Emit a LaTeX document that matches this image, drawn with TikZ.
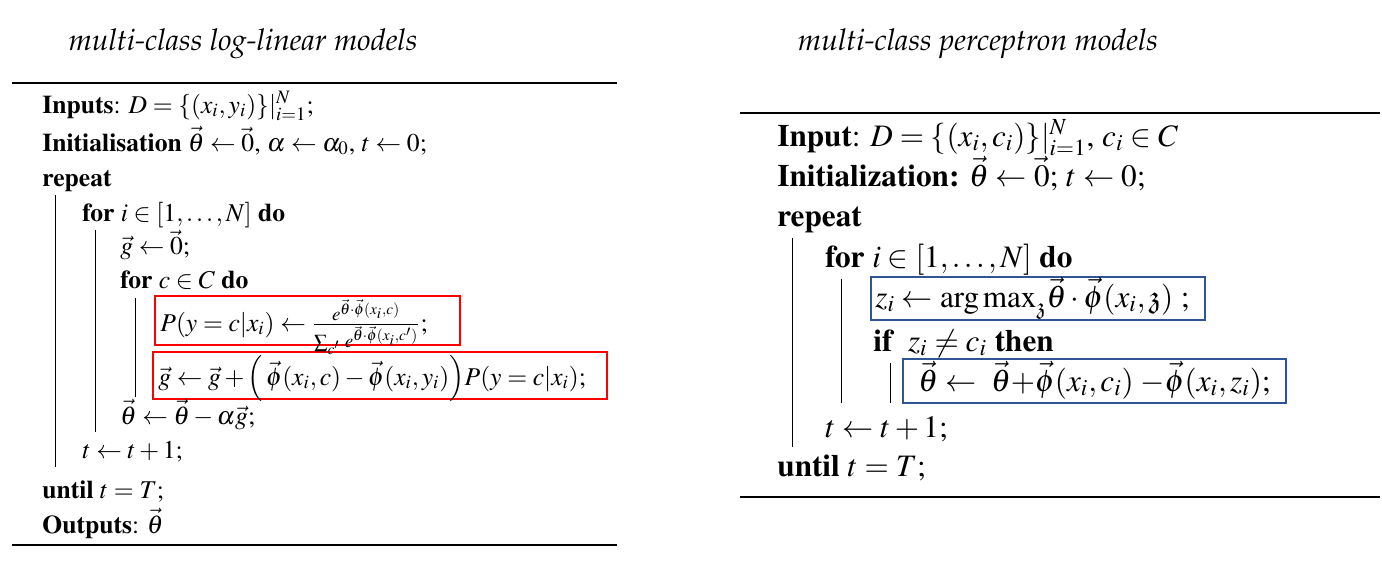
\documentclass[tikz,border=0pt]{standalone}
\usepackage[T1]{fontenc}
\usepackage{mathptmx}
\usepackage{amssymb}
\usepackage{tikz}
\definecolor{hiblue}{RGB}{47,85,151}
\colorlet{hired}{red}
\tikzset{
  every algo line/.style={anchor=base west,inner sep=0pt},
  left line/.style={every algo line,font=\fontsize{12.8}{15}\selectfont},
  right line/.style={every algo line,font=\fontsize{15.6}{18}\selectfont},
  model title/.style={anchor=base,inner sep=0pt,font=\fontsize{15}{18}\fontfamily{ppl}\selectfont\itshape},
  rule/.style={line width=1pt},
  block bar/.style={line width=0.5pt},
  red box/.style={draw=hired,line width=1pt},
  blue box/.style={draw=hiblue,line width=1pt},
}

\begin{document}
\begin{tikzpicture}[x=0.5pt,y=-0.5pt]
\useasboundingbox (0,0) rectangle (1382,578);
% titles
\node[model title] (lefttitle) at (243,50) {multi-class log-linear models};
\node[model title] (righttitle) at (978,50) {multi-class perceptron models};
% rules
\foreach \xa/\xb/\ry in {12/617/83, 12/617/545, 740/1380/113, 740/1380/497}
{
  \draw[rule] (\xa,\ry) -- (\xb,\ry);
}
% block bars
\foreach \bx/\btop/\bbot in {55/195/467, 95/230/432, 135/298/397, 792/238/447, 841/279/403, 890/363/403}
{
  \draw[block bar] (\bx,\btop) -- (\bx,\bbot);
}
% highlight boxes
\draw[red box] (155,296) rectangle (460,345);
\draw[red box] (153,352) rectangle (607,399);
\draw[blue box] (871,277) rectangle (1205,320);
\draw[blue box] (903,359) rectangle (1286,403);

% log-linear
\node[left line] (inputs) at (42,113) {\textbf{Inputs}: $D=\{(x_i,y_i)\}|_{i=1}^{N}$;};
\node[left line] (init) at (42,151) {\textbf{Initialisation} $\vec{\theta}\leftarrow\vec{0}$, $\alpha\leftarrow\alpha_0$, $t\leftarrow0$;};
\node[left line] (rep) at (42,186) {\textbf{repeat}};
\node[left line] (fori) at (82,221) {\textbf{for} $i\in[1,\ldots,N]$ \textbf{do}};
\node[left line] (gzero) at (120,254) {$\vec{g}\leftarrow\vec{0}$;};
\node[left line] (forc) at (120,288) {\textbf{for} $c\in C$ \textbf{do}};
\node[left line] (pupd) at (160,331) {$P(y=c|x_i)\leftarrow\frac{e^{\vec{\theta}\cdot\vec{\phi}(x_i,c)}}{\sum_{c'}\,e^{\vec{\theta}\cdot\vec{\phi}(x_i,c')}}$;};
\node[left line] (gupd) at (158,385) {$\vec{g}\leftarrow\vec{g}+\Bigl(\,\vec{\phi}(x_i,c)-\vec{\phi}(x_i,y_i)\Bigr)P(y=c|x_i)$;};
\node[left line] (thupd) at (120,424) {$\vec{\theta}\leftarrow\vec{\theta}-\alpha\vec{g}$;};
\node[left line] (tinc) at (82,458) {$t\leftarrow t+1$;};
\node[left line] (until) at (42,498) {\textbf{until} $t=T$;};
\node[left line] (outputs) at (42,533) {\textbf{Outputs}: $\vec{\theta}$};

% perceptron
\node[right line] (rinput) at (777,146) {\textbf{Input}: $D=\{(x_i,c_i)\}|_{i=1}^{N}$, $c_i\in C$};
\node[right line] (rinit) at (777,186) {\textbf{Initialization:} $\vec{\theta}\leftarrow\vec{0}$; $t\leftarrow0$;};
\node[right line] (rrep) at (777,226) {\textbf{repeat}};
\node[right line] (rfor) at (825,267) {\textbf{for} $i\in[1,\ldots,N]$ \textbf{do}};
\node[right line] (zarg) at (875,307) {$z_i\leftarrow\mathrm{arg\,max}_{\mathfrak{z}}\vec{\theta}\cdot\vec{\phi}(x_i,\mathfrak{z})$ ;};
\node[right line] (rif) at (873,351) {\textbf{if}\ \ $z_i\neq c_i$ \textbf{then}};
\node[right line] (rthupd) at (918,391) {$\vec{\theta}\leftarrow\ \vec{\theta}{+}\vec{\phi}(x_i,c_i)\;{-}\vec{\phi}(x_i,z_i)$;};
\node[right line] (rtinc) at (825,437) {$t\leftarrow t+1$;};
\node[right line] (runtil) at (777,476) {\textbf{until} $t=T$;};
\end{tikzpicture}
\end{document}
